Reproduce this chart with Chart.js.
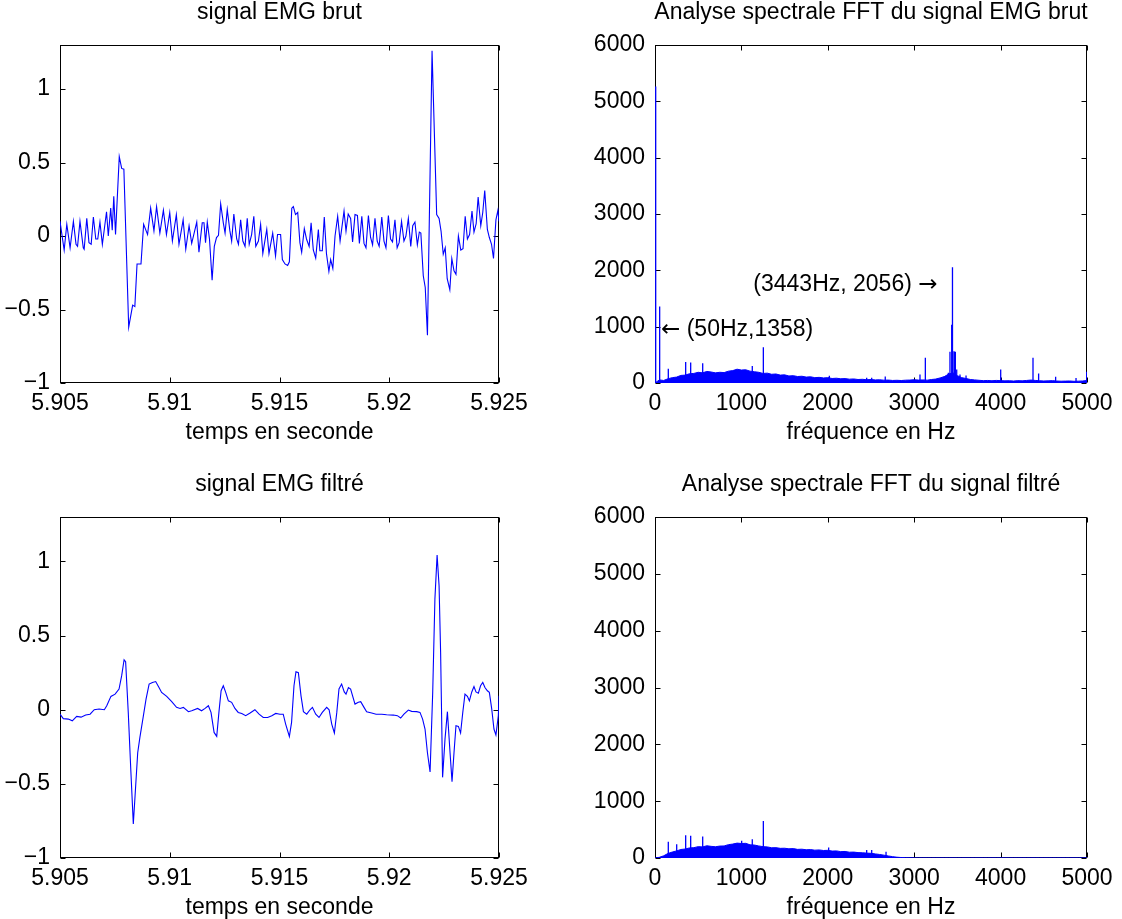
<!DOCTYPE html>
<html>
<head>
<meta charset="utf-8">
<script src="https://cdn.jsdelivr.net/npm/chart.js@4.4.1/dist/chart.umd.min.js"></script>
<style>
  html, body { margin: 0; padding: 0; background: #fff; }
  body { position: relative; width: 1122px; height: 919px; overflow: hidden; }
  canvas { position: absolute; }
</style>
</head>
<body>
<canvas id="rawSignal"></canvas>
<canvas id="rawSpectrum"></canvas>
<canvas id="filtSignal"></canvas>
<canvas id="filtSpectrum"></canvas>
<script>
// ---- time signals : time in ms after T0 (s), amplitude ----
const T0 = 5.905;
const rawMs = [0, 0.19, 0.31, 0.46, 0.61, 0.73, 0.80, 0.91, 1.06, 1.10, 1.22, 1.32, 1.42, 1.52, 1.63, 1.72, 1.82, 1.93,
  2.12, 2.20, 2.31, 2.38, 2.45, 2.53, 2.70, 2.81, 2.91, 3.13, 3.31, 3.41, 3.51, 3.69, 3.81, 3.99, 4.13, 4.28, 4.40,
  4.55, 4.71, 4.85, 5.00, 5.12, 5.30, 5.42, 5.61, 5.73, 5.88, 6.00, 6.23, 6.33, 6.48, 6.56, 6.63, 6.71, 6.81, 6.93,
  7.03, 7.13, 7.22, 7.32, 7.44, 7.52, 7.62, 7.74, 7.82, 7.92, 8.05, 8.13, 8.23, 8.33, 8.43, 8.53, 8.62, 8.73, 8.83,
  8.92, 9.04, 9.14, 9.24, 9.42, 9.52, 9.69, 9.82, 9.91, 10.05, 10.13, 10.25, 10.37, 10.45, 10.56, 10.63, 10.73,
  10.83, 10.93, 11.01, 11.13, 11.23, 11.35, 11.44, 11.54, 11.65, 11.77, 11.84, 11.95, 12.04, 12.14, 12.25, 12.33,
  12.43, 12.53, 12.65, 12.76, 12.94, 13.03, 13.13, 13.24, 13.33, 13.44, 13.55, 13.64, 13.75, 13.85, 13.94, 14.05,
  14.15, 14.24, 14.35, 14.45, 14.54, 14.66, 14.76, 14.85, 14.96, 15.06, 15.15, 15.26, 15.36, 15.45, 15.56, 15.67,
  15.76, 15.87, 15.98, 16.07, 16.17, 16.28, 16.37, 16.44, 16.55, 16.64, 16.74, 16.95, 17.16, 17.27, 17.36, 17.46,
  17.55, 17.64, 17.76, 17.85, 17.95, 18.04, 18.15, 18.26, 18.36, 18.46, 18.56, 18.66, 18.77, 18.86, 18.96, 19.05,
  19.17, 19.26, 19.35, 19.47, 19.56, 19.66, 19.75, 19.86, 19.95, 20.0];
const rawVal = [0.10, -0.095, 0.08, -0.08, 0.10, -0.056, -0.07, 0.10, -0.08, -0.09, 0.12, -0.045, -0.056, 0.13, -0.02, -0.02, 0.095, -0.056,
  0.165, 0, 0.19, 0.04, 0.27, 0.01, 0.54, 0.46, 0.455, -0.62, -0.47, -0.48, -0.19, -0.19, 0.08, 0.01, 0.19, 0.035, 0.20,
  0.02, 0.175, 0.01, 0.16, -0.034, 0.146, -0.056, 0.11, -0.09, 0.07, -0.05, 0.095, -0.11, 0.09, 0.09, -0.045, 0.095, -0.02, -0.30,
  -0.07, -0.01, 0.005, 0.22, 0.09, 0.02, 0.18, 0.035, -0.034, 0.15, -0.02, -0.056, 0.11, -0.034, -0.07, 0.12, -0.056, 0.01, 0.135,
  -0.07, -0.034, 0.08, -0.12, 0.045, -0.12, 0.02, -0.135, 0.01, 0.01, -0.16, -0.19, -0.20, -0.175, 0.19, 0.20, 0.146,
  0.16, -0.045, -0.11, 0.05, -0.02, -0.07, 0.09, -0.095, -0.15, 0.045, -0.10, -0.10, 0.13, -0.12, -0.24, -0.16,
  -0.22, 0, 0.135, -0.034, 0.17, 0.034, 0.15, 0.12, -0.04, 0.146, 0.14, -0.05, 0.135, -0.05, -0.08, 0.14,
  -0.01, -0.06, 0.12, -0.034, -0.07, 0.13, -0.034, -0.08, 0.14, -0.02, -0.04, 0.11, -0.08, -0.045, 0.10, -0.034,
  0, 0.12, -0.07, 0.07, 0.095, -0.06, 0.027, 0.02, -0.27, -0.35, -0.675, 1.26, 0.146, 0.12, 0.034, -0.124,
  -0.08, -0.29, -0.365, -0.153, -0.236, -0.26, 0, -0.095, -0.086, 0.135, -0.02, 0.01, 0.17, 0.027, 0.085, 0.265,
  0.07, 0.16, 0.31, 0.045, -0.01, -0.056, -0.153, 0.11, 0.175, 0.10];

const filtMs = [0, 0.15, 0.38, 0.56, 0.76, 0.96, 1.17, 1.37, 1.56, 1.78, 2.02, 2.13, 2.32, 2.51, 2.69, 2.81, 2.92, 2.99,
  3.11, 3.23, 3.34, 3.42, 3.54, 3.64, 3.80, 3.92, 4.06, 4.21, 4.36, 4.51, 4.63, 4.86, 5.09, 5.31, 5.47, 5.62, 5.85,
  6.00, 6.27, 6.45, 6.61, 6.76, 6.88, 7.02, 7.14, 7.24, 7.34, 7.44, 7.55, 7.67, 7.82, 7.97, 8.12, 8.28, 8.46, 8.66,
  8.88, 9.07, 9.26, 9.46, 9.65, 9.83, 10.02, 10.17, 10.28, 10.45, 10.55, 10.66, 10.75, 10.86, 10.98, 11.09, 11.24,
  11.39, 11.50, 11.65, 11.80, 11.95, 12.15, 12.26, 12.38, 12.50, 12.61, 12.71, 12.83, 12.95, 13.03, 13.14, 13.24,
  13.44, 13.59, 13.70, 13.85, 13.97, 14.20, 14.40, 14.66, 14.88, 15.19, 15.37, 15.52, 15.67, 15.87, 16.02, 16.25,
  16.40, 16.52, 16.63, 16.74, 16.86, 16.98, 17.08, 17.18, 17.27, 17.34, 17.43, 17.54, 17.65, 17.77, 17.86, 17.95,
  18.04, 18.15, 18.25, 18.35, 18.45, 18.56, 18.65, 18.76, 18.86, 18.95, 19.06, 19.16, 19.26, 19.36, 19.47, 19.56,
  19.67, 19.77, 19.86, 19.97, 20.0];
const filtVal = [-0.03, -0.06, -0.063, -0.075, -0.045, -0.05, -0.036, -0.03, 0, 0.005, 0, 0.027, 0.09, 0.105, 0.14, 0.23, 0.337, 0.324,
  -0.018, -0.42, -0.77, -0.58, -0.29, -0.186, -0.04, 0.072, 0.173, 0.184, 0.19, 0.15, 0.117, 0.09, 0.054, 0.016, 0.009, 0.016, -0.013,
  -0.007, 0.009, -0.007, 0.009, 0.027, -0.018, -0.153, -0.18, -0.018, 0.128, 0.162, 0.117, 0.06, 0.05, 0.009, -0.018, -0.025, -0.04, -0.022,
  0, -0.03, -0.052, -0.052, -0.04, -0.025, -0.03, -0.03, -0.097, -0.18, -0.085, 0.162, 0.256, 0.25, 0.094, -0.013, -0.03,
  0, 0.016, -0.03, -0.052, -0.018, 0.016, 0, -0.097, -0.157, -0.018, 0.14, 0.173, 0.12, 0.105, 0.15, 0.14,
  0.038, 0.05, 0.054, 0.016, -0.013, -0.022, -0.03, -0.03, -0.034, -0.036, -0.04, -0.056, -0.03, -0.002, -0.011, -0.013,
  -0.018, -0.063, -0.13, -0.29, -0.42, 0.117, 0.746, 1.043, 0.836, 0.387, -0.456, -0.198, -0.013, -0.29, -0.485, -0.29,
  -0.108, -0.112, -0.157, -0.018, 0.105, 0.09, 0.06, 0.12, 0.157, 0.12, 0.112, 0.162, 0.184, 0.15, 0.128, 0.117,
  0.004, -0.13, -0.17, -0.04, 0.094];

const timeTicks = [5.905, 5.91, 5.915, 5.92, 5.925];
const timeTickLabels = ['5.905', '5.91', '5.915', '5.92', '5.925'];
const ampTicks = [-1, -0.5, 0, 0.5, 1];
const ampTickLabels = ['\u22121', '\u22120.5', '0', '0.5', '1'];

// ---- spectra : broadband floor on a 50 Hz grid + isolated peaks ----
const fftFreq = [0, 50, 100, 150, 200, 250, 300, 350, 400, 450, 500, 550, 600, 650, 700, 750, 800, 850, 900, 950,
  1000, 1050, 1100, 1150, 1200, 1250, 1300, 1350, 1400, 1450, 1500, 1550, 1600, 1650, 1700, 1750, 1800, 1850, 1900, 1950,
  2000, 2050, 2100, 2150, 2200, 2250, 2300, 2350, 2400, 2450, 2500, 2550, 2600, 2650, 2700, 2750, 2800, 2850, 2900, 2950,
  3000, 3050, 3100, 3150, 3200, 3250, 3300, 3350, 3400, 3450, 3500, 3550, 3600, 3650, 3700, 3750, 3800, 3850, 3900, 3950,
  4000, 4050, 4100, 4150, 4200, 4250, 4300, 4350, 4400, 4450, 4500, 4550, 4600, 4650, 4700, 4750, 4800, 4850, 4900, 4950, 5000];
const rawFloor = [0, 55, 45, 75, 95, 105, 135, 140, 165, 170, 190, 180, 205, 195, 180, 190, 185, 210, 220, 245,
  230, 235, 210, 200, 190, 170, 175, 155, 160, 140, 145, 125, 130, 115, 120, 105, 110, 95, 100, 90,
  95, 80, 85, 75, 78, 68, 72, 62, 66, 58, 62, 55, 57, 50, 52, 45, 48, 44, 50, 52,
  58, 52, 55, 50, 62, 70, 90, 115, 160, 180, 130, 95, 80, 62, 55, 48, 42, 45, 40, 46,
  42, 38, 40, 35, 42, 38, 45, 52, 46, 40, 36, 38, 42, 35, 32, 34, 36, 30, 33, 36, 45];
const filtFloor = [0, 12, 38, 80, 105, 125, 150, 158, 178, 182, 200, 195, 215, 205, 198, 210, 212, 235, 245, 262,
  255, 258, 232, 228, 212, 200, 195, 180, 182, 170, 172, 162, 165, 152, 155, 145, 148, 138, 142, 132,
  135, 122, 125, 112, 115, 102, 104, 95, 92, 86, 82, 72, 62, 50, 36, 24, 14, 8, 5, 3,
  2, 2, 2, 2, 2, 2, 2, 2, 2, 2, 2, 2, 2, 2, 2, 2, 2, 2, 2, 2,
  2, 2, 2, 2, 2, 2, 2, 2, 2, 2, 2, 2, 2, 2, 2, 2, 2, 2, 2, 2, 2];
const rawPeakFreq = [8, 54, 154, 355, 413, 552, 1126, 1254, 2018, 2450, 2508, 2665, 3067, 3129, 3318, 3356, 3395, 3414,
  3434, 3443, 3461, 3476, 3492, 3530, 3600, 4001, 4375, 4440, 4637, 4873, 4996];
const rawPeakAmp = [5265, 1358, 255, 375, 364, 352, 303, 636, 127, 95, 95, 115, 153, 447, 106, 124, 182, 553,
  1035, 2056, 565, 553, 241, 150, 135, 241, 447, 170, 110, 90, 200];
const filtPeakFreq = [154, 251, 355, 413, 552, 1003, 1126, 1254, 2010, 2450, 2508, 2674];
const filtPeakAmp = [285, 244, 401, 390, 378, 302, 331, 651, 186, 140, 140, 110];

const freqTicks = [0, 1000, 2000, 3000, 4000, 5000];
const fftTicks = [0, 1000, 2000, 3000, 4000, 5000, 6000];

// annotations of the raw spectrum (arrow drawn on the side given by noteArrow)
const noteText = ['(50Hz,1358)', '(3443Hz, 2056)'];
const noteArrow = ['left', 'right'];
const noteFreq = [70, 3270];
const noteAmp = [940, 1740];

// ---- layout ----
const FONT = "'Liberation Sans', Arial, Helvetica, sans-serif";
const ARROW_FONT = "'DejaVu Sans', sans-serif";
const FS = 23;
const AXW = 70, TOPH = 45, BOTH = 72, PADR = 40;
const BLUE = '#0000ff';

function place(id, L, T, R, B) {
  const c = document.getElementById(id);
  c.width = AXW + (R - L) + PADR;
  c.height = TOPH + (B - T) + BOTH;
  c.style.left = (L - AXW) + 'px';
  c.style.top = (T - TOPH) + 'px';
  return c;
}

// MATLAB-like box with inward ticks on all four sides
const boxTicks = {
  id: 'boxTicks',
  beforeDatasetsDraw(chart) {
    const {ctx, chartArea: a, scales: {x, y}} = chart;
    const l = Math.round(a.left) + 0.5, r = Math.round(a.right) - 0.5;
    const t = Math.round(a.top) + 0.5, b = Math.round(a.bottom) - 0.5;
    ctx.save();
    ctx.strokeStyle = '#000';
    ctx.lineWidth = 1;
    ctx.strokeRect(l, t, r - l, b - t);
    ctx.beginPath();
    x.ticks.forEach(tk => {
      const px = Math.round(x.getPixelForValue(tk.value)) + 0.5;
      ctx.moveTo(px, b); ctx.lineTo(px, b - 5);
      ctx.moveTo(px, t); ctx.lineTo(px, t + 5);
    });
    y.ticks.forEach(tk => {
      const py = Math.round(y.getPixelForValue(tk.value)) + 0.5;
      ctx.moveTo(l, py); ctx.lineTo(l + 5, py);
      ctx.moveTo(r, py); ctx.lineTo(r - 5, py);
    });
    ctx.stroke();
    ctx.restore();
  }
};

// title centred over the plot box
const boxTitle = {
  id: 'boxTitle',
  afterDraw(chart, args, opts) {
    const {ctx, chartArea: a} = chart;
    ctx.save();
    ctx.fillStyle = '#000';
    ctx.font = FS + 'px ' + FONT;
    ctx.textAlign = 'center';
    ctx.textBaseline = 'middle';
    ctx.fillText(opts.text, (a.left + a.right) / 2, a.top - 32);
    ctx.restore();
  }
};

const spectrumNotes = {
  id: 'spectrumNotes',
  afterDatasetsDraw(chart) {
    const {ctx, scales: {x, y}} = chart;
    ctx.save();
    ctx.fillStyle = '#000';
    ctx.textBaseline = 'middle';
    ctx.textAlign = 'left';
    noteText.forEach((txt, i) => {
      const px = x.getPixelForValue(noteFreq[i]);
      const py = y.getPixelForValue(noteAmp[i]);
      ctx.font = FS + 'px ' + ARROW_FONT;
      const arrow = noteArrow[i] === 'left' ? '\u2190' : '\u2192';
      const aw = ctx.measureText(arrow).width;
      ctx.font = FS + 'px ' + FONT;
      const sp = ctx.measureText(' ').width;
      const tw = ctx.measureText(txt).width;
      if (noteArrow[i] === 'left') {
        ctx.font = FS + 'px ' + ARROW_FONT;
        ctx.fillText(arrow, px, py);
        ctx.font = FS + 'px ' + FONT;
        ctx.fillText(txt, px + aw + sp, py);
      } else {
        const start = px - (tw + sp + aw);
        ctx.font = FS + 'px ' + FONT;
        ctx.fillText(txt, start, py);
        ctx.font = FS + 'px ' + ARROW_FONT;
        ctx.fillText(arrow, start + tw + sp, py);
      }
    });
    ctx.restore();
  }
};

function axis(min, max, ticks, labels, title, horizontal) {
  return {
    type: 'linear', min: min, max: max,
    grid: {display: false, drawTicks: false},
    border: {display: false},
    afterBuildTicks: s => { s.ticks = ticks.map(v => ({value: v})); },
    afterFit: s => { if (horizontal) s.height = BOTH; else s.width = AXW; },
    ticks: {
      callback: (v, i) => labels[i],
      color: '#000', font: {family: FONT, size: FS},
      padding: horizontal ? 7 : 10,
      autoSkip: false, maxRotation: 0
    },
    title: {
      display: !!title, text: title, color: '#000',
      font: {family: FONT, size: FS},
      padding: {top: 0, bottom: 9}
    }
  };
}

function makeChart(canvas, title, datasets, xs, ys, extra) {
  return new Chart(canvas, {
    type: 'line',
    data: {datasets: datasets},
    options: {
      responsive: false, animation: false, events: [],
      layout: {padding: {top: TOPH, left: 0, right: PADR, bottom: 0}},
      elements: {point: {radius: 0}, line: {tension: 0}},
      plugins: {
        legend: {display: false}, tooltip: {enabled: false}, title: {display: false},
        boxTitle: {text: title}
      },
      scales: {x: xs, y: ys}
    },
    plugins: [boxTicks, boxTitle].concat(extra || [])
  });
}

function signalSet(ms, val) {
  return {
    data: ms.map((m, i) => ({x: T0 + m / 1000, y: val[i]})),
    borderColor: BLUE, borderWidth: 1.1, fill: false
  };
}

function floorSet(val) {
  return {
    data: fftFreq.map((f, i) => ({x: f, y: val[i]})),
    borderColor: BLUE, backgroundColor: BLUE, borderWidth: 1, fill: 'origin'
  };
}

function peakSet(freq, amp) {
  const pts = [];
  freq.forEach((f, i) => { pts.push({x: f, y: 0}, {x: f, y: amp[i]}, {x: f, y: 0}); });
  return {data: pts, borderColor: BLUE, borderWidth: 1.3, fill: false};
}

// top row
makeChart(place('rawSignal', 60, 45, 499, 383), 'signal EMG brut',
  [signalSet(rawMs, rawVal)],
  axis(5.905, 5.925, timeTicks, timeTickLabels, 'temps en seconde', true),
  axis(-1, 1.3, ampTicks, ampTickLabels, '', false));

makeChart(place('rawSpectrum', 655, 45, 1087, 383), 'Analyse spectrale FFT du signal EMG brut',
  [floorSet(rawFloor), peakSet(rawPeakFreq, rawPeakAmp)],
  axis(0, 5000, freqTicks, freqTicks.map(String), 'fr\u00e9quence en Hz', true),
  axis(0, 6000, fftTicks, fftTicks.map(String), '', false),
  [spectrumNotes]);

// bottom row
makeChart(place('filtSignal', 60, 517, 499, 858), 'signal EMG filtr\u00e9',
  [signalSet(filtMs, filtVal)],
  axis(5.905, 5.925, timeTicks, timeTickLabels, 'temps en seconde', true),
  axis(-1, 1.3, ampTicks, ampTickLabels, '', false));

makeChart(place('filtSpectrum', 655, 517, 1087, 858), 'Analyse spectrale FFT du signal filtr\u00e9',
  [floorSet(filtFloor), peakSet(filtPeakFreq, filtPeakAmp)],
  axis(0, 5000, freqTicks, freqTicks.map(String), 'fr\u00e9quence en Hz', true),
  axis(0, 6000, fftTicks, fftTicks.map(String), '', false));
</script>
</body>
</html>
